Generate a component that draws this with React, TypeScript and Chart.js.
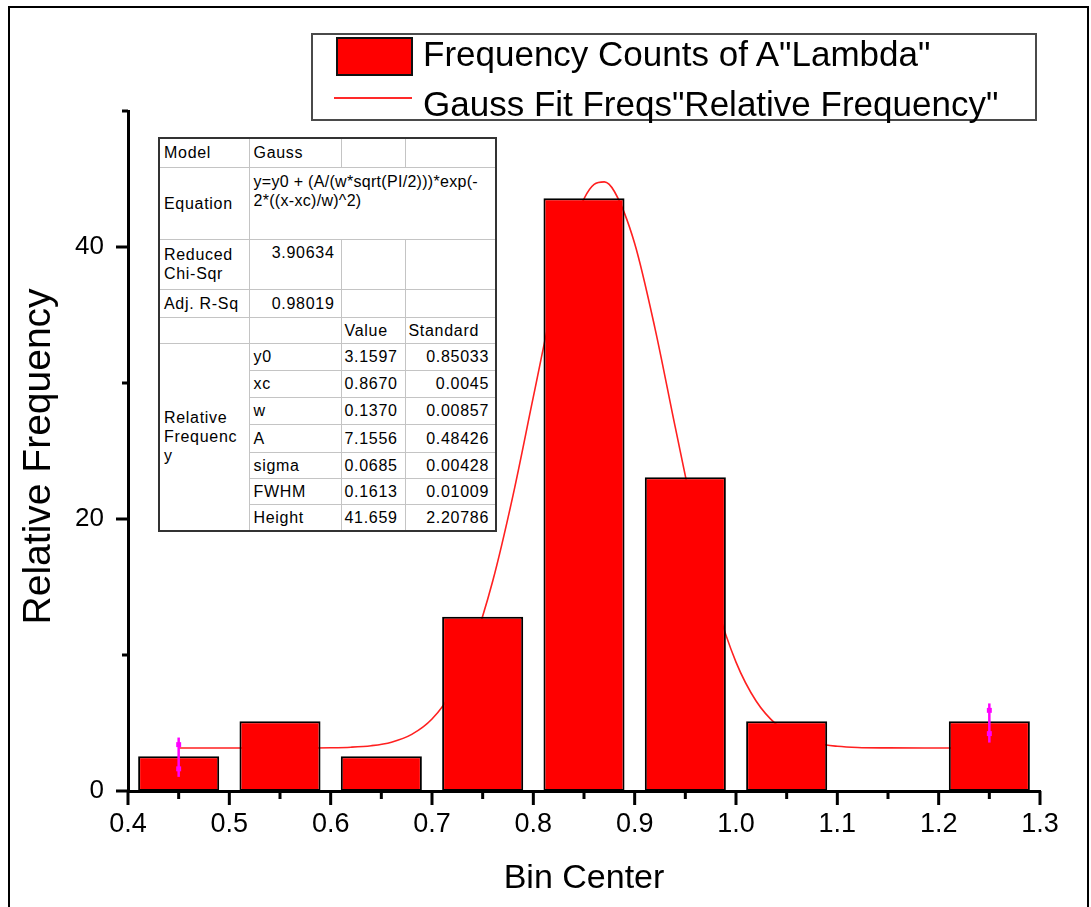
import React, { useEffect, useRef } from "react";
import { Chart, registerables } from "chart.js";

Chart.register(...registerables);

// ---------------- data ----------------
const binCenters = [0.45, 0.55, 0.65, 0.75, 0.85, 0.95, 1.05, 1.15, 1.25];
const relFrequency = [2.564, 5.128, 2.564, 12.821, 43.59, 23.077, 5.128, 0, 5.128];

const fitX = [0.45, 0.5, 0.55, 0.6, 0.62, 0.64, 0.66, 0.68, 0.7, 0.72, 0.74, 0.76, 0.78, 0.8, 0.82, 0.84, 0.86, 0.87, 0.88, 0.9, 0.92, 0.94, 0.96, 0.98, 1.0, 1.02, 1.04, 1.06, 1.08, 1.1, 1.12, 1.15, 1.2, 1.25];
const fitY = [3.16, 3.16, 3.16, 3.18, 3.22, 3.33, 3.59, 4.16, 5.29, 7.33, 10.63, 15.46, 21.76, 28.98, 36.08, 41.71, 44.6, 44.79, 44.08, 40.26, 34.04, 26.77, 19.74, 13.85, 9.48, 6.6, 4.88, 3.95, 3.49, 3.29, 3.2, 3.17, 3.16, 3.16];

const markerX = [0.45, 1.25];
const markerLow = [1.04, 3.56];
const markerHigh = [3.93, 6.44];
const markerDotLow = [1.63, 4.22];
const markerDotHigh = [3.41, 5.93];

const xTickValues = [0.4, 0.5, 0.6, 0.7, 0.8, 0.9, 1.0, 1.1, 1.2, 1.3];
const xTickLabels = ["0.4", "0.5", "0.6", "0.7", "0.8", "0.9", "1.0", "1.1", "1.2", "1.3"];
const xMinorTicks = [0.45, 0.55, 0.65, 0.75, 0.85, 0.95, 1.05, 1.15, 1.25];
const yTickValues = [0, 20, 40];
const yMinorTicks = [10, 30, 50];

const seriesNames = ['Frequency Counts of A"Lambda"', 'Gauss Fit Freqs"Relative Frequency"'];

const paramNames = ["y0", "xc", "w", "A", "sigma", "FWHM", "Height"];
const paramValues = ["3.1597", "0.8670", "0.1370", "7.1556", "0.0685", "0.1613", "41.659"];
const paramErrors = ["0.85033", "0.0045", "0.00857", "0.48426", "0.00428", "0.01009", "2.20786"];
const modelName = "Gauss";
const equationLines = ["y=y0 + (A/(w*sqrt(PI/2)))*exp(-", "2*((x-xc)/w)^2)"];
const redChiSqr = "3.90634";
const adjRSq = "0.98019";

const FONT = "'Liberation Sans', Arial, Helvetica, sans-serif";

const tickPlugin = {
  id: "originTicks",
  afterDraw(chart: any) {
    const { ctx } = chart;
    const x = chart.scales.x;
    const y = chart.scales.y;
    ctx.save();
    ctx.strokeStyle = "#000";
    ctx.lineWidth = 3;
    const base = y.getPixelForValue(0);
    const left = x.getPixelForValue(0.4);
    const seg = (x1: number, y1: number, x2: number, y2: number) => {
      ctx.beginPath();
      ctx.moveTo(x1, y1);
      ctx.lineTo(x2, y2);
      ctx.stroke();
    };
    xTickValues.forEach((v) => {
      const px = x.getPixelForValue(v);
      seg(px, base, px, base + 14);
    });
    xMinorTicks.forEach((v) => {
      const px = x.getPixelForValue(v);
      seg(px, base, px, base + 8);
    });
    yTickValues.forEach((v) => {
      const py = y.getPixelForValue(v);
      seg(left - 12, py, left, py);
    });
    yMinorTicks.forEach((v) => {
      const py = y.getPixelForValue(v);
      seg(left - 6, py, left, py);
    });
    ctx.restore();
  },
};

const rowHeights = [29, 72, 50, 28, 26, 27, 27, 27, 28, 26, 26, 27];

function ParamTable() {
  const td = (extra: any = {}) => ({
    border: "1px solid #c4c4c4",
    padding: "0 4px",
    verticalAlign: "middle",
    whiteSpace: "nowrap" as const,
    ...extra,
  });
  const right = { textAlign: "right" as const, paddingRight: 6 };
  return (
    <table
      style={{
        position: "absolute",
        left: 158,
        top: 137,
        width: 337,
        borderCollapse: "collapse",
        border: "2px solid #333",
        background: "#fff",
        fontFamily: FONT,
        fontSize: 16,
        letterSpacing: "0.7px",
        color: "#000",
        tableLayout: "fixed",
        lineHeight: "19px",
      }}
    >
      <colgroup>
        <col style={{ width: 90 }} />
        <col style={{ width: 92 }} />
        <col style={{ width: 64 }} />
        <col style={{ width: 91 }} />
      </colgroup>
      <tbody>
        <tr style={{ height: rowHeights[0] }}>
          <td style={td()}>Model</td>
          <td style={td()}>{modelName}</td>
          <td style={td()}></td>
          <td style={td()}></td>
        </tr>
        <tr style={{ height: rowHeights[1] }}>
          <td style={td()}>Equation</td>
          <td colSpan={3} style={td({ verticalAlign: "top", paddingTop: 4, letterSpacing: "0.3px" })}>
            {equationLines[0]}
            <br />
            {equationLines[1]}
          </td>
        </tr>
        <tr style={{ height: rowHeights[2] }}>
          <td style={td()}>
            Reduced
            <br />
            Chi-Sqr
          </td>
          <td style={td({ ...right, verticalAlign: "top", paddingTop: 3 })}>{redChiSqr}</td>
          <td style={td()}></td>
          <td style={td()}></td>
        </tr>
        <tr style={{ height: rowHeights[3] }}>
          <td style={td()}>Adj. R-Sq</td>
          <td style={td(right)}>{adjRSq}</td>
          <td style={td()}></td>
          <td style={td()}></td>
        </tr>
        <tr style={{ height: rowHeights[4] }}>
          <td style={td()}></td>
          <td style={td()}></td>
          <td style={td({ paddingLeft: 3 })}>Value</td>
          <td style={td({ paddingLeft: 3 })}>Standard</td>
        </tr>
        {paramNames.map((name, i) => (
          <tr key={name} style={{ height: rowHeights[5 + i] }}>
            {i === 0 && (
              <td rowSpan={paramNames.length} style={td()}>
                Relative
                <br />
                Frequenc
                <br />y
              </td>
            )}
            <td style={td()}>{name}</td>
            <td style={td({ paddingLeft: 3 })}>{paramValues[i]}</td>
            <td style={td(right)}>{paramErrors[i]}</td>
          </tr>
        ))}
      </tbody>
    </table>
  );
}

function Legend() {
  const text = {
    position: "absolute" as const,
    left: 423,
    fontFamily: FONT,
    fontSize: 35,
    lineHeight: "35px",
    color: "#000",
    whiteSpace: "nowrap" as const,
  };
  return (
    <>
      <div
        style={{
          position: "absolute",
          left: 311,
          top: 33,
          width: 726,
          height: 88,
          boxSizing: "border-box",
          border: "2px solid #4a4a4a",
          background: "#fff",
        }}
      />
      <div
        style={{
          position: "absolute",
          left: 336,
          top: 37,
          width: 77,
          height: 39,
          boxSizing: "border-box",
          border: "2px solid #111",
          background: "#ff0000",
        }}
      />
      <div style={{ ...text, top: 36 }}>{seriesNames[0]}</div>
      <div style={{ position: "absolute", left: 334, top: 97, width: 78, height: 2, background: "#ff2a2a" }} />
      <div style={{ ...text, top: 86 }}>{seriesNames[1]}</div>
    </>
  );
}

export default function App() {
  const canvasRef = useRef<HTMLCanvasElement | null>(null);

  useEffect(() => {
    document.body.style.margin = "0";
    const canvas = canvasRef.current;
    if (!canvas) return;

    const datasets: any[] = [
      {
        type: "bar",
        label: seriesNames[0],
        data: binCenters.map((x, i) => ({ x, y: relFrequency[i] })),
        backgroundColor: "#ff0000",
        borderColor: "#000",
        borderWidth: 2,
        borderSkipped: false,
        barPercentage: 0.8,
        categoryPercentage: 1.0,
        order: 0,
      },
      {
        type: "line",
        label: seriesNames[1],
        data: fitX.map((x, i) => ({ x, y: fitY[i] })),
        borderColor: "#ff2020",
        borderWidth: 1.6,
        pointRadius: 0,
        fill: false,
        cubicInterpolationMode: "monotone",
        order: 1,
      },
    ];
    markerX.forEach((mx, i) => {
      datasets.push({
        type: "line",
        label: "marker" + i,
        data: [
          { x: mx, y: markerLow[i] },
          { x: mx, y: markerHigh[i] },
        ],
        borderColor: "#ff00ff",
        borderWidth: 2.5,
        pointRadius: 0,
        fill: false,
        order: -1,
      });
    });
    datasets.push({
      type: "line",
      label: "markerDots",
      data: markerX.flatMap((mx, i) => [
        { x: mx, y: markerDotLow[i] },
        { x: mx, y: markerDotHigh[i] },
      ]),
      showLine: false,
      pointStyle: "rect",
      pointRadius: 3.5,
      backgroundColor: "#ff00ff",
      borderColor: "#ff00ff",
      borderWidth: 0,
      order: -2,
    });

    const chart = new Chart(canvas, {
      type: "bar",
      data: { datasets },
      options: {
        animation: false,
        responsive: false,
        events: [],
        layout: { padding: { top: 111, right: 51, bottom: 0, left: 0 } },
        plugins: { legend: { display: false }, tooltip: { enabled: false } },
        scales: {
          x: {
            type: "linear",
            min: 0.4,
            max: 1.3,
            offset: false,
            grid: { display: false, drawTicks: false, tickLength: 0 },
            border: { display: true, color: "#000", width: 3 },
            afterBuildTicks: (s: any) => {
              s.ticks = xTickValues.map((v) => ({ value: v }));
            },
            afterFit: (s: any) => {
              s.height = 116;
            },
            ticks: {
              autoSkip: false,
              maxRotation: 0,
              padding: 17,
              color: "#000",
              font: { family: FONT, size: 27 },
              callback: (v: any) => {
                const idx = xTickValues.findIndex((t) => Math.abs(t - Number(v)) < 1e-6);
                return idx >= 0 ? xTickLabels[idx] : "";
              },
            },
            title: {
              display: true,
              text: "Bin Center",
              color: "#000",
              font: { family: FONT, size: 34 },
              padding: { top: 0, bottom: 8 },
            },
          },
          y: {
            type: "linear",
            min: 0,
            max: 50,
            grid: { display: false, drawTicks: false, tickLength: 0 },
            border: { display: true, color: "#000", width: 3 },
            afterBuildTicks: (s: any) => {
              s.ticks = yTickValues.map((v) => ({ value: v }));
            },
            afterFit: (s: any) => {
              s.width = 128;
            },
            ticks: {
              padding: 24,
              color: "#000",
              font: { family: FONT, size: 26 },
              callback: (v: any) => String(v),
            },
            title: {
              display: true,
              text: "Relative Frequency\u00a0",
              color: "#000",
              font: { family: FONT, size: 39 },
              padding: { top: 16, bottom: 0 },
            },
          },
        },
      } as any,
      plugins: [tickPlugin],
    });

    return () => {
      chart.destroy();
    };
  }, []);

  return (
    <div style={{ position: "relative", width: 1091, height: 907, overflow: "hidden", background: "#fff" }}>
      <canvas
        ref={canvasRef}
        width={1091}
        height={907}
        style={{ position: "absolute", left: 0, top: 0, width: 1091, height: 907 }}
      />
      <div
        style={{
          position: "absolute",
          left: 8,
          top: 6,
          width: 1077,
          height: 940,
          border: "2px solid #000",
          pointerEvents: "none",
        }}
      />
      <Legend />
      <ParamTable />
    </div>
  );
}
